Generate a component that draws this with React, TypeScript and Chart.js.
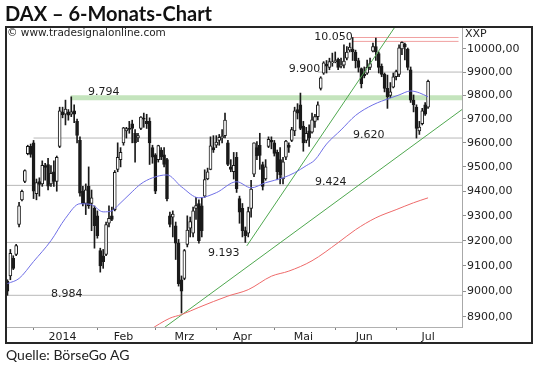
import React, { useEffect, useRef } from 'react';
import { Chart, registerables } from 'chart.js';

Chart.register(...registerables);

// Trading days (DAX, Dec 2013 – Jul 2014)
const tradingDays = [
  '13.12.', '16.12.', '17.12.', '18.12.', '19.12.', '20.12.', '23.12.', '27.12.', '30.12.',
  '02.01.', '03.01.', '06.01.', '07.01.', '08.01.', '09.01.', '10.01.', '13.01.', '14.01.', '15.01.', '16.01.', '17.01.', '20.01.', '21.01.', '22.01.', '23.01.', '24.01.', '27.01.', '28.01.', '29.01.', '30.01.', '31.01.',
  '03.02.', '04.02.', '05.02.', '06.02.', '07.02.', '10.02.', '11.02.', '12.02.', '13.02.', '14.02.', '17.02.', '18.02.', '19.02.', '20.02.', '21.02.', '24.02.', '25.02.', '26.02.', '27.02.', '28.02.',
  '03.03.', '04.03.', '05.03.', '06.03.', '07.03.', '10.03.', '11.03.', '12.03.', '13.03.', '14.03.', '17.03.', '18.03.', '19.03.', '20.03.', '21.03.', '24.03.', '25.03.', '26.03.', '27.03.', '28.03.', '31.03.',
  '01.04.', '02.04.', '03.04.', '04.04.', '07.04.', '08.04.', '09.04.', '10.04.', '11.04.', '14.04.', '15.04.', '16.04.', '17.04.', '22.04.', '23.04.', '24.04.', '25.04.', '28.04.', '29.04.', '30.04.',
  '02.05.', '05.05.', '06.05.', '07.05.', '08.05.', '09.05.', '12.05.', '13.05.', '14.05.', '15.05.', '16.05.', '19.05.', '20.05.', '21.05.', '22.05.', '23.05.', '26.05.', '27.05.', '28.05.', '29.05.', '30.05.',
  '02.06.', '03.06.', '04.06.', '05.06.', '06.06.', '09.06.', '10.06.', '11.06.', '12.06.', '13.06.', '16.06.', '17.06.', '18.06.', '19.06.', '20.06.', '23.06.', '24.06.', '25.06.', '26.06.', '27.06.', '30.06.',
  '01.07.', '02.07.', '03.07.', '04.07.', '07.07.', '08.07.', '09.07.', '10.07.', '11.07.', '14.07.', '15.07.', '16.07.',
];

const openV = [
  9040, 9060, 9130, 9145, 9265, 9365, 9440, 9555, 9585,
  9600, 9390, 9440, 9430, 9505, 9510, 9430, 9480, 9440, 9585, 9730, 9720, 9730, 9720, 9735, 9690, 9610, 9400, 9350, 9420, 9350, 9330,
  9300, 9160, 9140, 9145, 9270, 9300, 9325, 9490, 9530, 9600, 9650, 9660, 9680, 9640, 9620, 9660, 9700, 9690, 9690, 9580,
  9550, 9530, 9570, 9550, 9530, 9300, 9295, 9260, 9190, 9045, 9050, 9185, 9250, 9230, 9330, 9350, 9340, 9380, 9450, 9490, 9580,
  9590, 9610, 9620, 9630, 9600, 9500, 9480, 9540, 9370, 9330, 9240, 9230, 9330, 9470, 9580, 9590, 9510, 9450, 9585, 9610,
  9600, 9560, 9530, 9450, 9540, 9590, 9610, 9650, 9740, 9760, 9670, 9610, 9650, 9645, 9690, 9710, 9830, 9895, 9935, 9920, 9940,
  9945, 9955, 9925, 9930, 9960, 9995, 10000, 9985, 9950, 9915, 9890, 9895, 9920, 9990, 10010, 9980, 9925, 9890, 9830, 9800, 9835,
  9880, 9890, 10000, 10020, 10000, 9910, 9780, 9750, 9650, 9680, 9760, 9750,
];
const highV = [
  9045, 9165, 9140, 9185, 9355, 9405, 9488, 9590, 9595,
  9610, 9450, 9455, 9525, 9515, 9535, 9505, 9525, 9545, 9750, 9750, 9780, 9740, 9794, 9760, 9700, 9625, 9420, 9430, 9500, 9405, 9340,
  9320, 9170, 9165, 9275, 9340, 9335, 9485, 9600, 9580, 9665, 9665, 9690, 9695, 9655, 9640, 9710, 9725, 9720, 9705, 9590,
  9555, 9590, 9580, 9580, 9535, 9315, 9320, 9275, 9205, 9060, 9165, 9300, 9295, 9335, 9375, 9365, 9375, 9488, 9495, 9625, 9630,
  9630, 9635, 9655, 9725, 9610, 9530, 9560, 9560, 9380, 9350, 9255, 9335, 9445, 9600, 9605, 9640, 9520, 9530, 9625, 9625,
  9610, 9570, 9580, 9540, 9610, 9600, 9665, 9750, 9765, 9810, 9690, 9665, 9675, 9725, 9720, 9773, 9880, 9945, 9950, 9960, 9982,
  9987, 9960, 9960, 10018, 10010, 10026, 10050, 9995, 9960, 9918, 9922, 9952, 9960, 10026, 10048, 9987, 9935, 9896, 9887, 9855, 9896,
  9909, 10018, 10031, 10026, 10004, 9922, 9802, 9760, 9690, 9745, 9770, 9866,
];
const lowV = [
  8984, 9045, 9085, 9140, 9255, 9360, 9435, 9550, 9540,
  9370, 9365, 9380, 9420, 9445, 9405, 9420, 9420, 9400, 9580, 9705, 9675, 9695, 9710, 9685, 9600, 9380, 9340, 9305, 9330, 9240, 9170,
  9210, 9075, 9090, 9140, 9255, 9280, 9320, 9480, 9500, 9590, 9620, 9640, 9600, 9520, 9605, 9655, 9665, 9660, 9510, 9515,
  9390, 9520, 9530, 9500, 9360, 9255, 9215, 9125, 9020, 8915, 9045, 9175, 9215, 9215, 9285, 9190, 9215, 9375, 9447, 9488, 9560,
  9580, 9590, 9600, 9620, 9505, 9480, 9450, 9395, 9270, 9215, 9193, 9215, 9295, 9460, 9530, 9490, 9405, 9445, 9580, 9575,
  9545, 9447, 9430, 9430, 9530, 9560, 9605, 9630, 9700, 9655, 9565, 9600, 9585, 9640, 9665, 9696, 9823, 9890, 9896, 9910, 9925,
  9940, 9910, 9918, 9918, 9952, 9987, 9950, 9918, 9900, 9832, 9875, 9890, 9910, 9987, 9950, 9896, 9880, 9815, 9745, 9790, 9832,
  9866, 9880, 9975, 9952, 9909, 9770, 9730, 9620, 9635, 9675, 9715, 9745,
];
const closeV = [
  9000, 9150, 9090, 9180, 9340, 9400, 9485, 9585, 9552,
  9400, 9435, 9428, 9506, 9498, 9421, 9473, 9440, 9540, 9734, 9717, 9742, 9716, 9730, 9720, 9631, 9392, 9349, 9406, 9340, 9373, 9260,
  9220, 9100, 9116, 9265, 9290, 9285, 9478, 9540, 9560, 9663, 9660, 9656, 9660, 9600, 9630, 9708, 9699, 9680, 9600, 9540,
  9400, 9589, 9542, 9510, 9370, 9265, 9307, 9190, 9030, 9000, 9160, 9243, 9277, 9320, 9342, 9200, 9240, 9448, 9480, 9587, 9570,
  9603, 9623, 9628, 9695, 9510, 9490, 9506, 9410, 9315, 9240, 9220, 9317, 9409, 9600, 9545, 9548, 9420, 9500, 9615, 9603,
  9556, 9480, 9467, 9521, 9607, 9581, 9655, 9735, 9725, 9660, 9600, 9640, 9620, 9697, 9710, 9760, 9875, 9940, 9925, 9945, 9943,
  9950, 9920, 9926, 9947, 9987, 10008, 9988, 9949, 9920, 9850, 9883, 9920, 9937, 10010, 9987, 9920, 9890, 9830, 9795, 9815, 9880,
  9902, 10005, 10029, 10009, 9920, 9780, 9760, 9660, 9666, 9735, 9720, 9860,
];

// Moving averages: [trading-day index, value]
const maShort: [number, number][] = [
  [0, 9030], [4, 9050], [9, 9117], [15, 9200], [20, 9290], [25, 9349], [29, 9345], [33, 9316], [36, 9320], [38, 9341],
  [43, 9398], [46, 9430], [50, 9455], [55, 9467], [60, 9418], [66, 9373], [72, 9394], [79, 9439], [84, 9414], [89, 9435],
  [95, 9455], [99, 9476], [103, 9505], [106, 9529], [110, 9595], [115, 9654], [120, 9715], [126, 9760], [132, 9789],
  [135, 9802], [139, 9819], [142, 9811], [145, 9794],
];
const maLong: [number, number][] = [
  [49, 8850], [56, 8895], [60, 8909], [66, 8937], [76, 8981], [83, 9006], [91, 9059], [97, 9079], [105, 9120],
  [114, 9192], [120, 9244], [127, 9292], [134, 9325], [140, 9353], [145, 9373],
];

// Trend lines: [index, value]
const trendLong: [number, number][] = [[54, 8858], [156.7, 9740]];
const trendSteep: [number, number][] = [[82.5, 9179], [135.9, 10140]];

// Horizontal levels
const levelValues = [9620, 9424, 9193, 8984, 9900];
const levelFrom = [9, -0.5, -0.5, -0.5, 107];
const levelTexts = ['9.620', '9.424', '9.193', '8.984', '9.900'];
const resistValue = 9790;
const resistFrom = 21.8;
const resistText = '9.794';
const highValues = [10050, 10033];
const highFrom = 119;
const highText = '10.050';

// Axes
const yTicks = [8900, 9000, 9100, 9200, 9300, 9400, 9500, 9600, 9700, 9800, 9900, 10000];
const monthStarts = [9, 31, 51, 72, 92, 113, 134];
const monthLabels = ['2014', 'Feb', 'Mrz', 'Apr', 'Mai', 'Jun', 'Jul'];
const monthLabelPos = [19, 40, 61, 81, 102, 123, 145];

const X_MIN = -0.5;
const X_MAX = 156.7;

const FONT = '"DejaVu Sans", Verdana, sans-serif';

const textPlugin = {
  id: 'levelTexts',
  afterDatasetsDraw(chart: any) {
    const { ctx, chartArea } = chart;
    const xs = chart.scales.x;
    const ys = chart.scales.y;
    ctx.save();
    ctx.fillStyle = '#1e1e1e';
    ctx.textBaseline = 'alphabetic';
    ctx.font = '11px ' + FONT;
    const put = (t: string, xi: number, v: number, dy: number, align: string) => {
      ctx.textAlign = align;
      ctx.fillText(t, xs.getPixelForValue(xi), ys.getPixelForValue(v) + dy);
    };
    put(resistText, 27.8, resistValue, -3, 'left');
    put(highText, highFrom, highValues[0], 2.5, 'right');
    put(levelTexts[4], 107.8, levelValues[4], -0.5, 'right');
    put(levelTexts[0], 119.1, levelValues[0], 0, 'left');
    put(levelTexts[1], 106, levelValues[1], 0, 'left');
    put(levelTexts[2], 69.1, levelValues[2], 14, 'left');
    put(levelTexts[3], 15, levelValues[3], 1.5, 'left');
    ctx.textAlign = 'left';
    ctx.font = '10.5px ' + FONT;
    ctx.fillText('\u00a9 www.tradesignalonline.com', chartArea.left + 1, chartArea.top + 9);
    ctx.font = '11px ' + FONT;
    ctx.fillText('XXP', chartArea.right + 3, chartArea.top + 9.5);
    ctx.restore();
  },
};

export default function App() {
  const ref = useRef<HTMLCanvasElement | null>(null);

  useEffect(() => {
    if (!ref.current) return;
    const idx = tradingDays.map((_, i) => i);
    const wicks = idx.map((i) => ({ x: i, y: [lowV[i], highV[i]] }));
    const bodies = idx.map((i) => ({ x: i, y: [openV[i], closeV[i]] }));
    const bodyColors = idx.map((i) => (closeV[i] >= openV[i] ? '#ffffff' : '#1a1a1a'));
    const pts = (a: [number, number][]) => a.map(([x, y]) => ({ x, y }));

    const levelSets = levelValues.map((v, k) => ({
      type: 'line',
      data: [{ x: levelFrom[k], y: v }, { x: X_MAX, y: v }],
      borderColor: '#b8b8b8',
      borderWidth: 1,
      pointRadius: 0,
      order: 10,
    }));
    const highSets = highValues.map((v) => ({
      type: 'line',
      data: [{ x: highFrom, y: v }, { x: 155.5, y: v }],
      borderColor: '#f0a0a0',
      borderWidth: 1,
      pointRadius: 0,
      order: 10,
    }));

    const chart = new Chart(ref.current, {
      type: 'bar',
      data: {
        datasets: [
          {
            type: 'line',
            data: pts(maShort),
            borderColor: '#6f6fe6',
            borderWidth: 1,
            pointRadius: 0,
            cubicInterpolationMode: 'monotone',
            order: 1,
          },
          {
            type: 'line',
            data: pts(maLong),
            borderColor: '#ee6a6a',
            borderWidth: 1,
            pointRadius: 0,
            cubicInterpolationMode: 'monotone',
            order: 1,
          },
          {
            type: 'line',
            data: pts(trendLong),
            borderColor: '#4fa84f',
            borderWidth: 1,
            pointRadius: 0,
            order: 1,
          },
          {
            type: 'line',
            data: pts(trendSteep),
            borderColor: '#4fa84f',
            borderWidth: 1,
            pointRadius: 0,
            order: 1,
          },
          {
            type: 'bar',
            data: bodies,
            backgroundColor: bodyColors,
            borderColor: '#1a1a1a',
            borderWidth: 1,
            borderSkipped: false,
            barThickness: 3,
            grouped: false,
            minBarLength: 1,
            order: 2,
          },
          {
            type: 'bar',
            data: wicks,
            backgroundColor: '#1a1a1a',
            borderWidth: 0,
            barThickness: 1,
            grouped: false,
            order: 3,
          },
          {
            type: 'line',
            data: [{ x: resistFrom, y: resistValue }, { x: X_MAX, y: resistValue }],
            borderColor: '#c4e4bd',
            borderWidth: 5,
            pointRadius: 0,
            order: 11,
          },
          ...levelSets,
          ...highSets,
        ] as any,
      },
      options: {
        responsive: false,
        animation: false,
        events: [],
        layout: { padding: { left: 6, top: 27, right: 7, bottom: 27 } },
        plugins: {
          legend: { display: false },
          tooltip: { enabled: false },
          title: { display: false },
        },
        scales: {
          x: {
            type: 'linear',
            position: 'bottom',
            min: X_MIN,
            max: X_MAX,
            offset: false,
            grid: {
              offset: false,
              drawOnChartArea: false,
              drawTicks: true,
              tickLength: 3,
              tickColor: (c: any) => (c.tick && monthStarts.includes(c.tick.value) ? '#808080' : 'rgba(0,0,0,0)'),
            },
            border: { display: true, color: '#b0b0b0' },
            ticks: {
              autoSkip: false,
              maxRotation: 0,
              padding: 1,
              color: '#1e1e1e',
              font: { family: FONT, size: 11 },
              callback: (v: any) => {
                const k = monthLabelPos.indexOf(Number(v));
                return k >= 0 ? monthLabels[k] : '';
              },
            },
            afterBuildTicks: (s: any) => {
              s.ticks = [...monthStarts, ...monthLabelPos].sort((a, b) => a - b).map((v) => ({ value: v }));
            },
            afterFit: (s: any) => {
              s.height = 17;
            },
          },
          y: {
            type: 'logarithmic',
            position: 'right',
            min: 8861,
            max: 10096,
            grid: {
              drawOnChartArea: false,
              drawTicks: true,
              tickLength: 4,
              tickColor: '#909090',
            },
            border: { display: true, color: '#a8a8a8' },
            ticks: {
              padding: 1,
              color: '#1e1e1e',
              font: { family: FONT, size: 11 },
              callback: (v: any) => Number(v).toFixed(2).replace('.', ','),
            },
            afterBuildTicks: (s: any) => {
              s.ticks = yTicks.map((v) => ({ value: v }));
            },
            afterFit: (s: any) => {
              s.width = 71;
            },
          },
        },
      } as any,
      plugins: [textPlugin as any],
    });
    return () => chart.destroy();
  }, []);

  return (
    <div style={{ position: 'absolute', left: 0, top: 0, width: 540, height: 371, background: '#fff', overflow: 'hidden' }}>
      <canvas ref={ref} width={540} height={371} style={{ position: 'absolute', left: 0, top: 0, width: 540, height: 371 }} />
      <div
        style={{
          position: 'absolute',
          left: 5,
          top: 26,
          width: 528,
          height: 318,
          border: '2px solid #262626',
          boxSizing: 'border-box',
          pointerEvents: 'none',
        }}
      />
      <div
        style={{
          position: 'absolute',
          left: 5,
          top: 1,
          font: 'bold 20px Lato, "Open Sans", sans-serif',
          lineHeight: '24px',
          color: '#111',
          whiteSpace: 'nowrap',
        }}
      >
        DAX – 6-Monats-Chart
      </div>
      <div
        style={{
          position: 'absolute',
          left: 6,
          top: 346,
          font: '14px Lato, "Open Sans", sans-serif',
          lineHeight: '18px',
          color: '#222',
          whiteSpace: 'nowrap',
        }}
      >
        Quelle: BörseGo AG
      </div>
    </div>
  );
}
